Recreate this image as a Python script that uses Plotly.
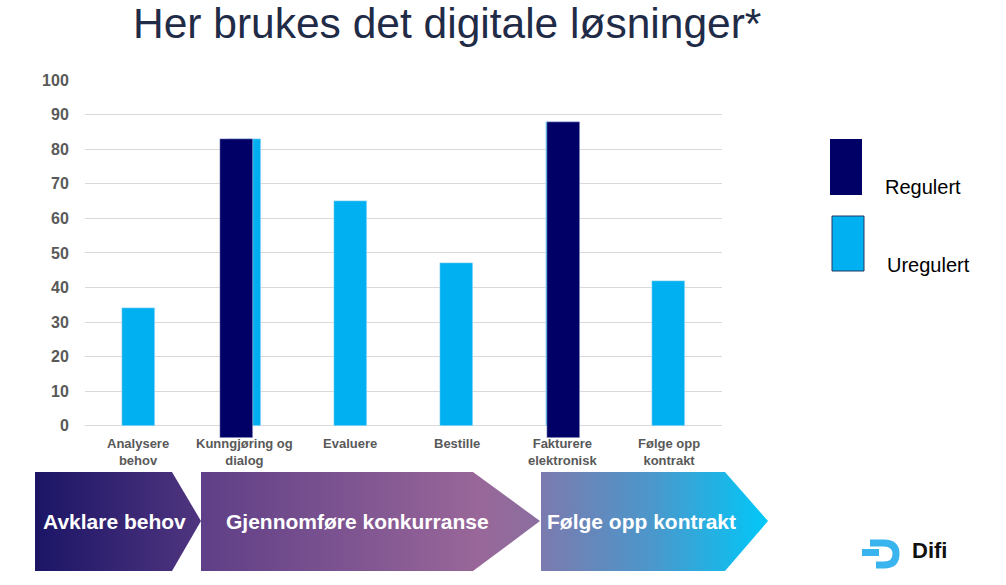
import plotly.graph_objects as go

# ---------------- data ----------------
categories = ["Analysere<br>behov", "Kunngjøring og<br>dialog", "Evaluere", "Bestille",
              "Fakturere<br>elektronisk", "Følge opp<br>kontrakt"]
uregulert = [34, 83, 65, 47, 88, 42]
regulert = [None, 83, None, None, 88, None]
series_names = ["Regulert", "Uregulert"]
y_ticks = [0, 10, 20, 30, 40, 50, 60, 70, 80, 90, 100]
phases = ["Avklare behov", "Gjennomføre konkurranse", "Følge opp kontrakt"]
title_text = "Her brukes det digitale løsninger*"

# ---------------- style ----------------
DARK = "#000066"
LIGHT = "#00b0f0"
W, H = 1006, 585
PL, PR, PT, PB = 85, 722, 80, 438
BASE = -3.5
BAR_W = 0.31
dark_offsets = [None, -0.232, None, None, -0.152, None]
FONT = "Liberation Sans, Arial"

fig = go.Figure()

# bars on xaxis2 / yaxis2
fig.add_trace(go.Bar(x=categories, y=uregulert, name=series_names[1], marker_color=LIGHT,
                     width=BAR_W, xaxis="x2", yaxis="y2", showlegend=False))
reg_y = [None if v is None else v - BASE for v in regulert]
offs = [o if o is not None else 0 for o in dark_offsets]
fig.add_trace(go.Bar(x=categories, y=reg_y, base=BASE, name=series_names[0], marker_color=DARK,
                     width=BAR_W, offset=offs, xaxis="x2", yaxis="y2", showlegend=False))

# chevrons on pixel axis (x / y)
chev = [
    ([35, 172, 201, 172, 35, 35], [[0, "#1b1566"], [1, "#50357f"]]),
    ([201, 473, 540, 473, 201, 201], [[0, "#5f3f87"], [0.82, "#996799"], [1, "#8a6f9f"]]),
    ([541, 725, 768, 725, 541, 541], [[0, "#7c7aae"], [0.5, "#4a98cc"], [1, "#00c8f8"]]),
]
cy = [472, 472, 521, 571, 571, 472]
for xs, cs in chev:
    fig.add_trace(go.Scatter(x=xs, y=cy, mode="lines", fill="toself", line=dict(width=0),
                             fillgradient=dict(type="horizontal", colorscale=cs),
                             hoverinfo="skip", showlegend=False, xaxis="x", yaxis="y"))

annotations = []
for txt, xc in zip(phases, [114, 357, 641]):
    annotations.append(dict(x=xc, y=521, xref="x", yref="y", text=f"<b>{txt}</b>", showarrow=False,
                            font=dict(family=FONT, size=21, color="white"),
                            xanchor="center", yanchor="middle"))

# category labels under the bars
for c in categories:
    annotations.append(dict(x=c, y=434, xref="x2", yref="y", text=f"<b>{c}</b>", showarrow=False,
                            font=dict(family=FONT, size=13, color="#595959"),
                            xanchor="center", yanchor="top", align="center"))

# title
annotations.append(dict(x=447, y=23, xref="x", yref="y", text=title_text, showarrow=False,
                        font=dict(family=FONT, size=42.5, color="#1f2b47"),
                        xanchor="center", yanchor="middle"))

# legend
shapes = [
    dict(type="rect", xref="x", yref="y", x0=830, x1=862, y0=139, y1=195, fillcolor=DARK,
         line=dict(width=0)),
    dict(type="rect", xref="x", yref="y", x0=832, x1=864, y0=216, y1=271, fillcolor=LIGHT,
         line=dict(width=1, color="#1f3864")),
]
annotations.append(dict(x=883, y=187, xref="x", yref="y", text=series_names[0], showarrow=False,
                        font=dict(family=FONT, size=20, color="black"),
                        xanchor="left", yanchor="middle"))
annotations.append(dict(x=885, y=265, xref="x", yref="y", text=series_names[1], showarrow=False,
                        font=dict(family=FONT, size=20, color="black"),
                        xanchor="left", yanchor="middle"))

# Difi logo
LOGO = "#3ab4ee"
shapes.append(dict(type="path", xref="x", yref="y",
                   path="M 870,543 L 884,543 Q 896,543 896,554 Q 896,565 884,565 L 876,565",
                   line=dict(color=LOGO, width=7)))
shapes.append(dict(type="rect", xref="x", yref="y", x0=862, x1=879, y0=549, y1=556,
                   fillcolor=LOGO, line=dict(width=0)))
annotations.append(dict(x=910, y=550, xref="x", yref="y", text="<b>Difi</b>", showarrow=False,
                        font=dict(family=FONT, size=22, color="#111111"),
                        xanchor="left", yanchor="middle"))

fig.update_layout(
    width=W, height=H,
    margin=dict(l=0, r=0, t=0, b=0, pad=0, autoexpand=False),
    paper_bgcolor="white", plot_bgcolor="rgba(0,0,0,0)",
    barmode="overlay",
    bargap=0,
    showlegend=False,
    xaxis=dict(domain=[0, 1], range=[0, W], visible=False, fixedrange=True),
    yaxis=dict(domain=[0, 1], range=[H, 0], visible=False, fixedrange=True),
    xaxis2=dict(domain=[PL / W, PR / W], anchor="y2", showgrid=False, showline=False,
                zeroline=False, ticks="", showticklabels=False,
                categoryorder="array", categoryarray=categories),
    yaxis2=dict(domain=[1 - PB / H, 1 - PT / H], anchor="x2", range=[BASE, 100],
                tickmode="array", tickvals=y_ticks, ticktext=[f"<b>{t}</b>" for t in y_ticks],
                showgrid=True, gridcolor="#d9d9d9", gridwidth=1, zeroline=False, showline=False,
                ticks="outside", ticklen=12, tickcolor="rgba(0,0,0,0)",
                tickfont=dict(family=FONT, size=16, color="#595959")),
    shapes=shapes,
    annotations=annotations,
)

fig.write_html("out.html")
